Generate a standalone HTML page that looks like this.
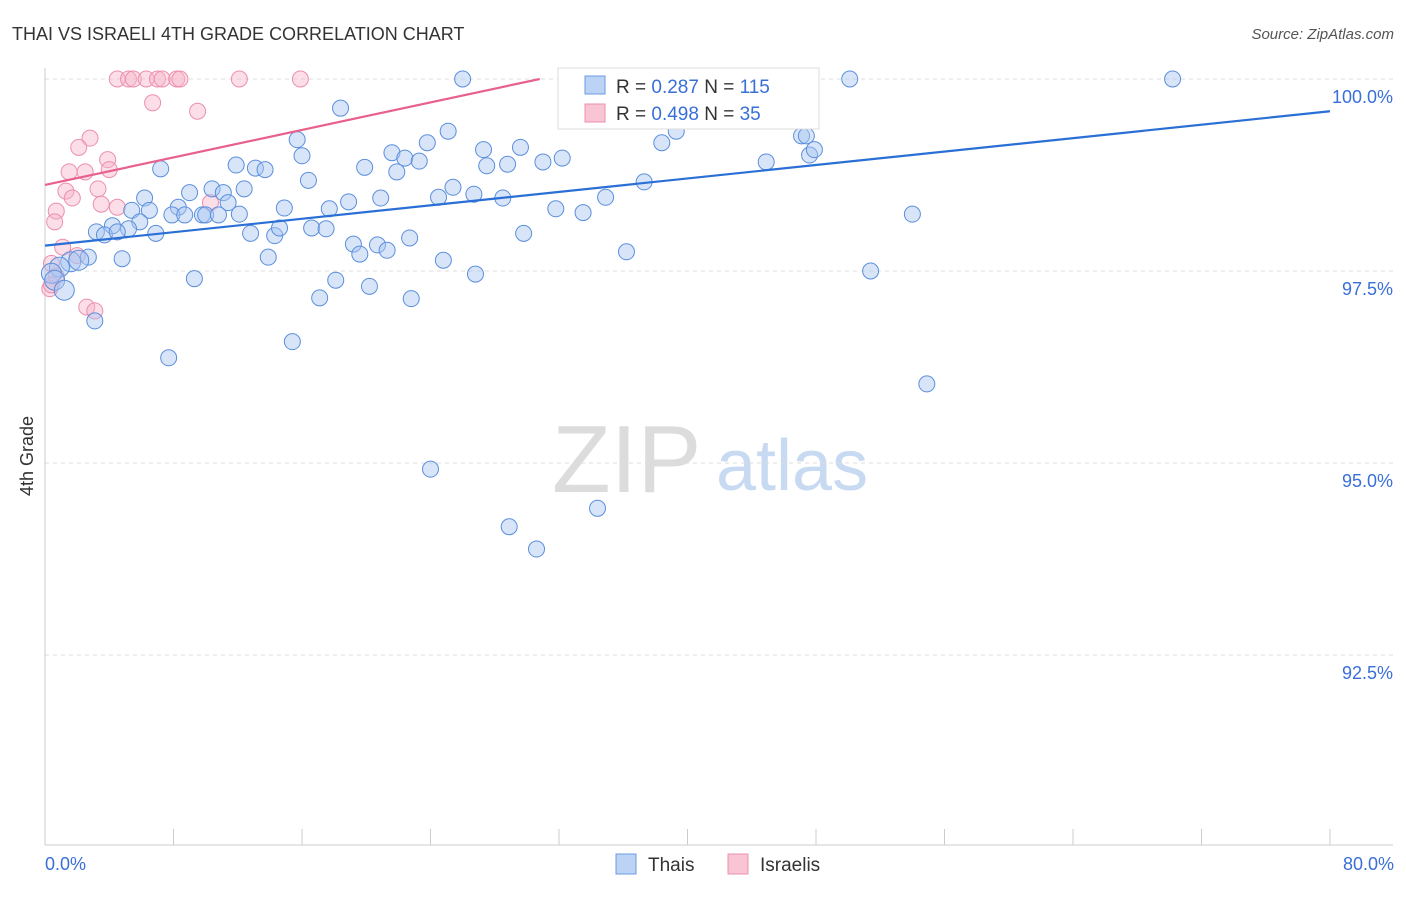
<!DOCTYPE html>
<html><head><meta charset="utf-8"><style>
body{margin:0;background:#fff;font-family:"Liberation Sans",sans-serif;}
svg text{font-family:"Liberation Sans",sans-serif;}
</style></head><body>
<svg id="chart" width="1406" height="892" xmlns="http://www.w3.org/2000/svg">
<text x="12" y="40" font-size="18" fill="#333">THAI VS ISRAELI 4TH GRADE CORRELATION CHART</text>
<text x="1394" y="39" font-size="15" fill="#555" font-style="italic" text-anchor="end">Source: ZipAtlas.com</text>
<g>
<text x="552" y="492" font-size="96" font-family="Liberation Serif" fill="#dcdcdc">ZIP</text>
<text x="716" y="490" font-size="72" fill="#c8daf2">atlas</text>
</g>
<g id="grid"></g>
<g id="axes"></g>
<g id="pts"></g>
<g id="lines"></g>
<text x="33" y="456" font-size="18" fill="#333" transform="rotate(-90 33 456)" text-anchor="middle">4th Grade</text>
<text x="45" y="870" font-size="18" fill="#3a6fd8">0.0%</text>
<text x="1394" y="870" font-size="18" fill="#3a6fd8" text-anchor="end">80.0%</text>
<g>
<rect x="558" y="68" width="261" height="61" fill="#fff" stroke="#ddd"/>
<rect x="585" y="76" width="20" height="18" fill="#bcd3f5" stroke="#6a9be0"/>
<rect x="585" y="104" width="20" height="18" fill="#f9c4d4" stroke="#ec8fae"/>
<text x="616" y="93" font-size="19" fill="#333">R = <tspan fill="#3a6fd8">0.287</tspan>   N = <tspan fill="#3a6fd8">115</tspan></text>
<text x="616" y="120" font-size="19" fill="#333">R = <tspan fill="#3a6fd8">0.498</tspan>   N = <tspan fill="#3a6fd8"> 35</tspan></text>
</g>
<g><rect x="616" y="854" width="20" height="20" fill="#bcd3f5" stroke="#6a9be0"/><text x="648" y="871" font-size="19" fill="#333">Thais</text></g>
<g><rect x="728" y="854" width="20" height="20" fill="#f9c4d4" stroke="#ec8fae"/><text x="760" y="871" font-size="19" fill="#333">Israelis</text></g>
</svg>
<script>
const yTicks=[100,97.5,95,92.5];
const yTickLabels=["100.0%","97.5%","95.0%","92.5%"];
const thaiX=[26.0,32.8,39.3,41.7,50.1,70.2,18.4,15.7,25.1,39.3,47.1,47.4,38.4,16.0,21.6,22.4,27.3,29.6,32.2,31.0,44.9,47.6,47.9,11.9,13.1,13.7,19.9,21.9,23.3,23.8,28.8,27.5,7.2,37.3,16.4,6.2,9.0,10.4,11.1,12.4,25.4,26.7,24.5,28.5,34.9,20.9,18.9,17.7,14.9,11.4,8.3,5.4,6.5,7.9,8.7,9.8,10.0,10.8,12.1,31.8,33.5,54.0,4.2,5.9,5.2,3.2,3.7,4.5,6.9,12.8,14.3,14.6,16.6,17.5,29.8,22.7,19.2,20.7,19.6,21.3,36.2,13.9,4.8,1.6,2.7,2.1,24.8,0.9,0.4,0.6,51.4,26.8,9.3,18.1,20.2,17.1,22.8,1.2,3.1,15.4,7.7,54.9,24.0,34.4,28.9,30.6,34.6,35.9,36.7,42.8,33.1,32.7];
const thaiY=[100,100,100,100,100,100,99.62,99.21,99.32,99.32,99.26,99.26,99.17,99.00,99.04,98.97,99.08,99.11,98.97,98.92,98.92,99.01,99.08,98.88,98.84,98.82,98.85,98.79,98.93,99.17,98.89,98.87,98.83,98.66,98.68,98.45,98.52,98.57,98.52,98.57,98.59,98.50,98.46,98.45,98.46,98.45,98.40,98.31,98.32,98.39,98.33,98.29,98.29,98.23,98.23,98.23,98.23,98.23,98.24,98.31,98.26,98.24,98.09,98.14,98.05,98.01,97.97,98.01,97.99,97.99,97.96,98.06,98.06,98.05,97.99,97.93,97.85,97.84,97.72,97.77,97.75,97.68,97.66,97.62,97.68,97.64,97.64,97.55,97.47,97.38,97.50,97.46,97.40,97.38,97.30,97.15,97.14,97.25,96.85,96.58,96.37,96.03,94.92,94.41,94.17,93.88,99.97,99.47,99.73,99.96,99.73,99.49];
const israeliX=[4.5,5.2,5.5,6.3,7.0,7.3,8.2,8.4,12.1,15.9,43.6,6.7,9.5,2.8,2.1,3.9,1.5,2.5,4.0,1.3,3.3,1.7,3.5,4.5,0.7,0.6,10.3,1.1,2.0,0.4,0.7,0.3,2.6,3.1,0.4];
const israeliY=[100,100,100,100,100,100,100,100,100,100,100,99.69,99.58,99.23,99.11,98.95,98.79,98.79,98.82,98.54,98.57,98.45,98.37,98.33,98.28,98.14,98.39,97.81,97.70,97.60,97.43,97.27,97.03,96.98,97.32];
const thaiTrend=[97.83,99.58];
const israeliTrend=[98.62,100];
const NS="http://www.w3.org/2000/svg";
const X=v=>45+v/80*1285, Y=v=>79+(100-v)/2.5*192;
function mk(tag,attrs,parent){const e=document.createElementNS(NS,tag);for(const k in attrs)e.setAttribute(k,attrs[k]);parent.appendChild(e);return e;}
const grid=document.getElementById('grid'),axes=document.getElementById('axes');
yTicks.forEach((t,i)=>{
 const l=mk('line',{x1:45,x2:1393,y1:Y(t),y2:Y(t),stroke:'#ddd','stroke-dasharray':'4,4'},grid);
 
 
 const tx=mk('text',{x:1393,y:Y(t)+24,'font-size':18,fill:'#3a6fd8','text-anchor':'end'},grid);
 tx.textContent=yTickLabels[i];
 
 
});
mk('line',{x1:45,x2:45,y1:68,y2:845,stroke:'#ccc'},axes);
mk('line',{x1:45,x2:1393,y1:845,y2:845,stroke:'#ccc'},axes);
for(let i=0;i<=10;i++){const t=mk('line',{x1:X(i*8),x2:X(i*8),y1:829,y2:845,stroke:'#ccc'},axes);
 
 }
const pts=document.getElementById('pts');
function draw(xs,ys,fill,stroke,name){xs.forEach((x,i)=>{
 const big=x<2.5&&name==='thai-point';
 const c=mk('circle',{cx:X(x),cy:Y(ys[i]),r:big?10:8,fill:fill,'fill-opacity':0.45,stroke:stroke,'stroke-width':1},pts);
 
 
});}
draw(israeliX,israeliY,'#f7b6ca','#ec8fae','israeli-point');
draw(thaiX,thaiY,'#a9c6f2','#5b8fdc','thai-point');
const lines=document.getElementById('lines');
const bl=mk('line',{x1:X(0),y1:Y(thaiTrend[0]),x2:X(80),y2:Y(thaiTrend[1]),stroke:'#2a6fd6','stroke-width':2.2},lines);


const px2=(israeliTrend[1]-israeliTrend[0])/((israeliTrend[1]-israeliTrend[0]))*30.8;
const pl=mk('line',{x1:X(0),y1:Y(israeliTrend[0]),x2:X(px2),y2:Y(israeliTrend[1]),stroke:'#e8608c','stroke-width':2.2},lines);


</script>
</body></html>
